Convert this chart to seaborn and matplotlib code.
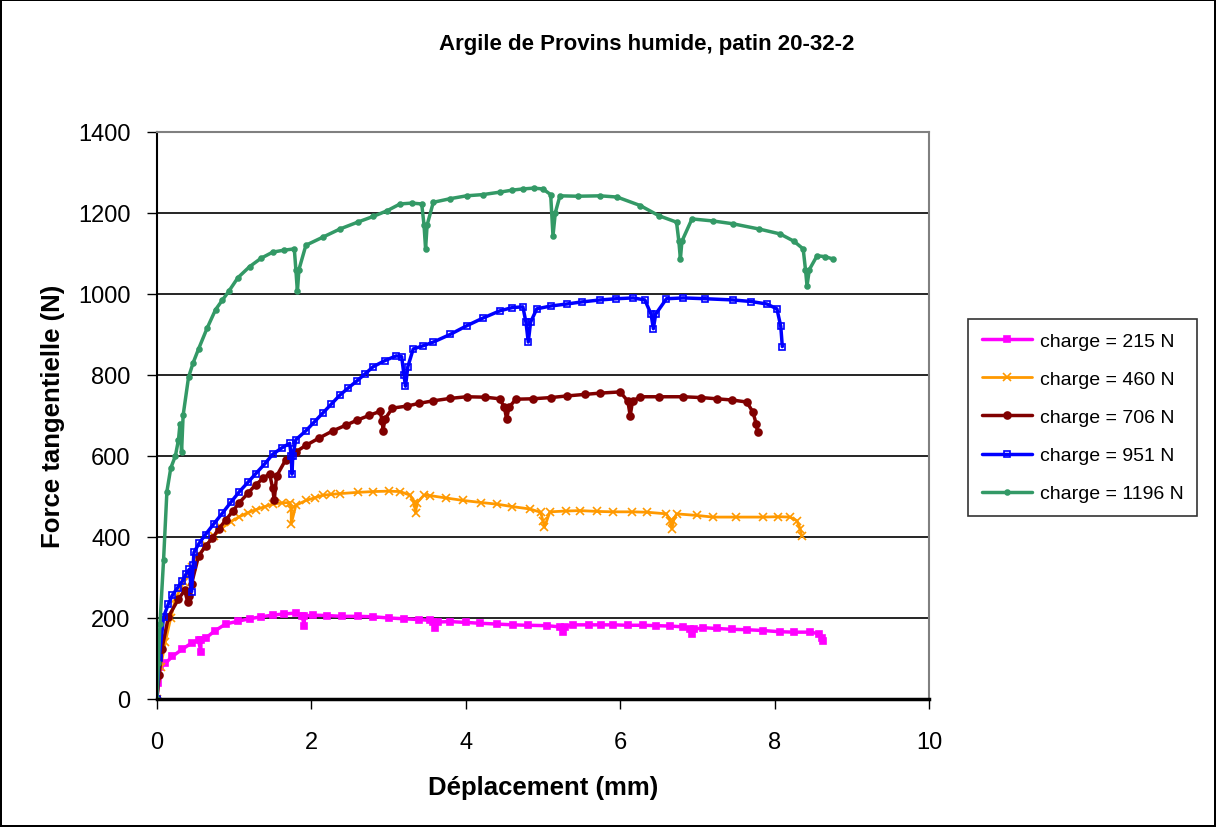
import numpy as np
import pandas as pd
import matplotlib
matplotlib.use("Agg")
import matplotlib.pyplot as plt
import seaborn as sns

# values (mm, N)
x_215 = [0, 0.02, 0.04, 0.11, 0.2, 0.33, 0.45, 0.54, 0.57, 0.57, 0.63, 0.75, 0.89, 1.05, 1.2, 1.35, 1.5, 1.65, 1.8, 1.88, 1.91, 1.91, 2.02, 2.2, 2.4, 2.6, 2.8, 3.0, 3.2, 3.4, 3.54, 3.58, 3.6, 3.64, 3.8, 4.0, 4.18, 4.4, 4.61, 4.8, 5.05, 5.22, 5.26, 5.28, 5.39, 5.6, 5.75, 5.91, 6.1, 6.3, 6.47, 6.65, 6.82, 6.9, 6.93, 6.96, 7.07, 7.25, 7.45, 7.64, 7.85, 8.07, 8.25, 8.46, 8.58, 8.62, 8.63]
y_215 = [0, 40, 79, 88, 105, 123, 138, 146, 115, 146, 150, 168, 185, 192, 198, 203, 207, 210, 212, 205, 181, 205, 207, 206, 204, 204, 203, 200, 198, 196, 194, 190, 176, 190, 191, 189, 187, 185, 183, 182, 181, 178, 165, 178, 183, 183, 183, 183, 182, 182, 181, 180, 178, 172, 160, 172, 176, 174, 172, 171, 169, 166, 165, 165, 161, 150, 144]

x_460 = [0, 0.05, 0.11, 0.18, 0.24, 0.35, 0.46, 0.55, 0.63, 0.74, 0.85, 0.96, 1.07, 1.18, 1.28, 1.4, 1.5, 1.62, 1.72, 1.74, 1.74, 1.8, 1.93, 2.05, 2.15, 2.26, 2.37, 2.6, 2.8, 3.0, 3.15, 3.28, 3.33, 3.35, 3.37, 3.46, 3.54, 3.75, 3.97, 4.2, 4.4, 4.6, 4.83, 4.97, 5.0, 5.02, 5.09, 5.3, 5.48, 5.7, 5.91, 6.15, 6.35, 6.6, 6.65, 6.67, 6.69, 6.73, 7.0, 7.2, 7.5, 7.85, 8.05, 8.2, 8.29, 8.33, 8.35]
y_460 = [0, 80, 141, 200, 247, 290, 326, 355, 379, 402, 423, 438, 450, 460, 467, 475, 481, 484, 485, 470, 432, 478, 490, 497, 503, 505, 507, 510, 512, 513, 512, 503, 485, 459, 485, 503, 502, 496, 490, 485, 481, 475, 469, 461, 440, 424, 462, 464, 465, 463, 462, 462, 461, 457, 440, 420, 440, 457, 453, 449, 449, 449, 450, 449, 440, 420, 403]

x_706 = [0, 0.03, 0.065, 0.15, 0.28, 0.36, 0.4, 0.42, 0.45, 0.54, 0.63, 0.72, 0.8, 0.89, 0.98, 1.07, 1.18, 1.28, 1.38, 1.46, 1.5, 1.52, 1.55, 1.67, 1.8, 1.93, 2.1, 2.28, 2.45, 2.59, 2.75, 2.89, 2.92, 2.93, 2.95, 3.05, 3.24, 3.4, 3.58, 3.8, 4.01, 4.25, 4.44, 4.5, 4.53, 4.56, 4.65, 4.87, 5.1, 5.31, 5.55, 5.74, 6.0, 6.1, 6.13, 6.16, 6.26, 6.5, 6.82, 7.05, 7.25, 7.45, 7.64, 7.72, 7.76, 7.78]
y_706 = [0, 60, 123, 203, 247, 268, 240, 255, 285, 353, 377, 397, 420, 441, 463, 485, 508, 529, 545, 556, 520, 490, 550, 591, 610, 626, 644, 662, 676, 688, 700, 710, 685, 662, 690, 718, 723, 730, 736, 742, 746, 745, 741, 720, 691, 720, 740, 741, 744, 748, 752, 755, 758, 735, 699, 735, 746, 746, 746, 744, 741, 738, 733, 708, 680, 659]

x_951 = [0, 0.03, 0.087, 0.15, 0.2, 0.27, 0.33, 0.38, 0.42, 0.45, 0.47, 0.48, 0.55, 0.63, 0.74, 0.85, 0.96, 1.07, 1.18, 1.28, 1.4, 1.5, 1.62, 1.72, 1.74, 1.75, 1.76, 1.8, 1.93, 2.04, 2.15, 2.26, 2.37, 2.48, 2.59, 2.7, 2.8, 2.95, 3.1, 3.17, 3.2, 3.22, 3.25, 3.32, 3.45, 3.58, 3.8, 4.01, 4.22, 4.44, 4.6, 4.74, 4.78, 4.81, 4.84, 4.92, 5.1, 5.31, 5.5, 5.74, 5.95, 6.17, 6.32, 6.4, 6.43, 6.46, 6.6, 6.82, 7.1, 7.46, 7.7, 7.9, 8.03, 8.08, 8.1]
y_951 = [0, 100, 203, 235, 256, 275, 291, 309, 320, 265, 330, 362, 385, 406, 433, 459, 486, 512, 535, 556, 581, 604, 620, 631, 600, 555, 600, 640, 662, 684, 706, 728, 750, 768, 785, 803, 820, 835, 847, 845, 800, 772, 820, 864, 872, 881, 900, 921, 940, 958, 966, 968, 930, 881, 930, 963, 970, 975, 980, 985, 988, 990, 985, 950, 914, 950, 988, 990, 988, 985, 981, 975, 963, 920, 870]

x_1196 = [0, 0.02, 0.04, 0.087, 0.13, 0.18, 0.24, 0.28, 0.3, 0.32, 0.34, 0.41, 0.47, 0.54, 0.65, 0.76, 0.85, 0.93, 1.05, 1.2, 1.35, 1.5, 1.65, 1.78, 1.8, 1.82, 1.84, 1.93, 2.15, 2.37, 2.6, 2.8, 2.98, 3.15, 3.3, 3.43, 3.46, 3.48, 3.5, 3.58, 3.8, 4.01, 4.22, 4.44, 4.6, 4.74, 4.88, 5.0, 5.1, 5.13, 5.16, 5.22, 5.45, 5.74, 5.96, 6.26, 6.5, 6.73, 6.76, 6.78, 6.8, 6.93, 7.2, 7.46, 7.8, 8.07, 8.25, 8.37, 8.4, 8.42, 8.45, 8.55, 8.65, 8.76]
y_1196 = [0, 90, 185, 344, 512, 570, 600, 640, 680, 610, 700, 794, 830, 864, 915, 961, 985, 1006, 1040, 1067, 1088, 1103, 1108, 1111, 1060, 1006, 1060, 1120, 1140, 1160, 1177, 1191, 1205, 1222, 1224, 1222, 1170, 1111, 1170, 1226, 1235, 1242, 1245, 1251, 1256, 1259, 1261, 1259, 1245, 1143, 1200, 1242, 1241, 1242, 1239, 1218, 1193, 1177, 1130, 1086, 1130, 1185, 1180, 1173, 1160, 1148, 1130, 1111, 1060, 1020, 1060, 1094, 1092, 1086]

series = [
    ("charge = 215 N", x_215, y_215, "#FF00FF", "s", 5, "#FF00FF", 2.5),
    ("charge = 460 N", x_460, y_460, "#FF9900", "x", 6, "#FF9900", 2.0),
    ("charge = 706 N", x_706, y_706, "#800000", "o", 5, "#800000", 2.5),
    ("charge = 951 N", x_951, y_951, "#0000FF", "s", 5, "none", 2.5),
    ("charge = 1196 N", x_1196, y_1196, "#339966", "o", 3.5, "#339966", 2.5),
]

sns.set_style("white")
plt.rcParams['font.family'] = ['Liberation Sans', 'DejaVu Sans']
plt.rcParams['text.color'] = 'black'
plt.rcParams['axes.labelcolor'] = 'black'
plt.rcParams['xtick.color'] = 'black'
plt.rcParams['ytick.color'] = 'black'

fig = plt.figure(figsize=(12.16, 8.28), dpi=100)
fig.patch.set_edgecolor('black')
fig.patch.set_linewidth(1.5)
ax = fig.add_axes([0.129, 0.1546, 0.635, 0.685])

for name, xs, ys, col, mk, ms, mfc, lw in series:
    df = pd.DataFrame({"x": xs, "y": ys})
    sns.lineplot(data=df, x="x", y="y", sort=False, estimator=None, ax=ax,
                 color=col, marker=mk, markersize=ms, markerfacecolor=mfc,
                 markeredgecolor=col, markeredgewidth=1.2, linewidth=lw,
                 label=name)

ax.set_xlim(0, 10)
ax.set_ylim(0, 1400)
ax.set_xticks(np.arange(0, 11, 2))
ax.set_yticks(np.arange(0, 1401, 200))
for yv in range(200, 1400, 200):
    ax.axhline(yv, color='black', linewidth=1.2, zorder=0)

for s in ['top', 'right']:
    ax.spines[s].set_color('#808080')
    ax.spines[s].set_linewidth(1.5)
for s in ['left', 'bottom']:
    ax.spines[s].set_color('black')
    ax.spines[s].set_linewidth(1.5)
ax.spines['bottom'].set_linewidth(2.5)
ax.tick_params(axis='both', which='major', direction='out', length=7, width=1,
               labelsize=17, left=True, bottom=True)
ax.tick_params(axis='y', pad=12)
ax.tick_params(axis='x', pad=16)

# title sits over the whole chart area (plot + legend), not just the axes
fig.text(0.532, 0.946, "Argile de Provins humide, patin 20-32-2", fontsize=16,
         fontweight='bold', ha='center', va='center')
ax.set_xlabel("Déplacement (mm)", fontsize=18.5, fontweight='bold', labelpad=16)
ax.set_ylabel("Force tangentielle (N)", fontsize=18.5, fontweight='bold', labelpad=9)

leg = ax.legend(loc='upper left', bbox_to_anchor=(0.796, 0.6135),
                bbox_transform=fig.transFigure, fontsize=14, frameon=True,
                fancybox=False, edgecolor='black', handlelength=2.6,
                handletextpad=0.4, labelspacing=1.05, borderpad=0.7,
                borderaxespad=0)
leg.get_frame().set_linewidth(1.2)

fig.savefig("out.png", dpi=100)
